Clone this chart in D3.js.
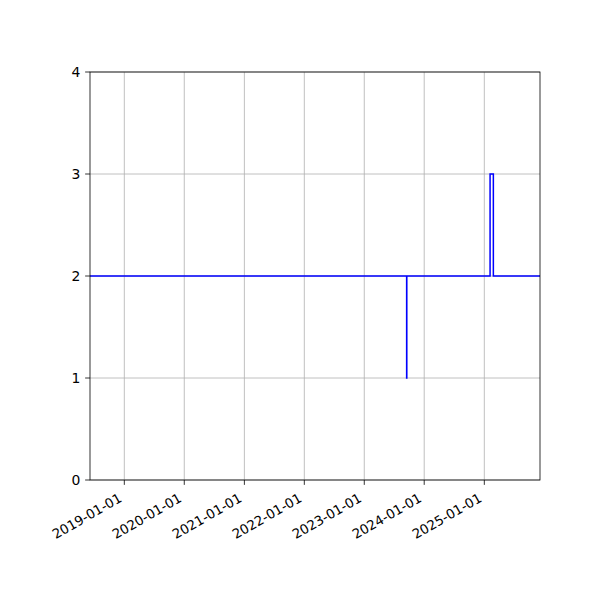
<!DOCTYPE html>
<html><head><meta charset="utf-8">
<script src="https://cdn.jsdelivr.net/npm/d3@7"></script>
<style>body{margin:0;background:#fff}svg{display:block}text{font-family:"DejaVu Sans",sans-serif}</style>
</head><body>
<script>
const dates = ["2018-06-06","2023-09-16","2023-09-17","2025-02-05","2025-02-25","2025-12-06"];
const values = [2, 1, 2, 3, 2, 2];
const xTickLabels = ["2019-01-01","2020-01-01","2021-01-01","2022-01-01","2023-01-01","2024-01-01","2025-01-01"];
const yTicks = [0, 1, 2, 3, 4];

const W = 600, H = 600;
const m = {l: 90, r: 60, t: 72, b: 120};
const parse = d3.utcParse("%Y-%m-%d");
const data = dates.map((d, i) => ({d: parse(d), v: values[i]}));

const svg = d3.select("body").append("svg").attr("width", W).attr("height", H);
const x = d3.scaleUtc().domain([parse("2018-06-06"), parse("2025-12-06")]).range([m.l, W - m.r]);
const y = d3.scaleLinear().domain([0, 4]).range([H - m.b, m.t]);
const fs = 13.3, tl = 4.86, pad = 4.86;

// grid
svg.append("g").selectAll("line").data(xTickLabels).join("line")
  .attr("x1", d => x(parse(d))).attr("x2", d => x(parse(d)))
  .attr("y1", m.t).attr("y2", H - m.b)
  .attr("stroke", "#b0b0b0").attr("stroke-width", 0.8);
svg.append("g").selectAll("line").data(yTicks).join("line")
  .attr("x1", m.l).attr("x2", W - m.r)
  .attr("y1", d => y(d)).attr("y2", d => y(d))
  .attr("stroke", "#b0b0b0").attr("stroke-width", 0.8);

// line
svg.append("path").datum(data)
  .attr("d", d3.line().x(d => x(d.d)).y(d => y(d.v)).curve(d3.curveStepAfter))
  .attr("fill", "none").attr("stroke", "#0000ff").attr("stroke-width", 1.5);

// frame
svg.append("rect").attr("x", m.l).attr("y", m.t).attr("width", W - m.l - m.r).attr("height", H - m.t - m.b)
  .attr("fill", "none").attr("stroke", "#000").attr("stroke-width", 0.8);

// x axis ticks
const xg = svg.append("g");
xTickLabels.forEach(s => {
  const px = x(parse(s));
  xg.append("line").attr("x1", px).attr("x2", px).attr("y1", H - m.b).attr("y2", H - m.b + tl)
    .attr("stroke", "#000").attr("stroke-width", 0.8);
  const ax = px - 1.6, ay = H - m.b + tl + pad + 11;
  xg.append("text").attr("x", ax).attr("y", ay).attr("text-anchor", "end")
    .attr("font-size", fs).attr("transform", `rotate(-30,${ax},${ay})`).text(s);
});
// y axis ticks
const yg = svg.append("g");
yTicks.forEach(v => {
  const py = y(v);
  yg.append("line").attr("x1", m.l - tl).attr("x2", m.l).attr("y1", py).attr("y2", py)
    .attr("stroke", "#000").attr("stroke-width", 0.8);
  yg.append("text").attr("x", m.l - tl - pad).attr("y", py).attr("dy", "0.36em")
    .attr("text-anchor", "end").attr("font-size", 13.9).text(v);
});
</script>
</body></html>
